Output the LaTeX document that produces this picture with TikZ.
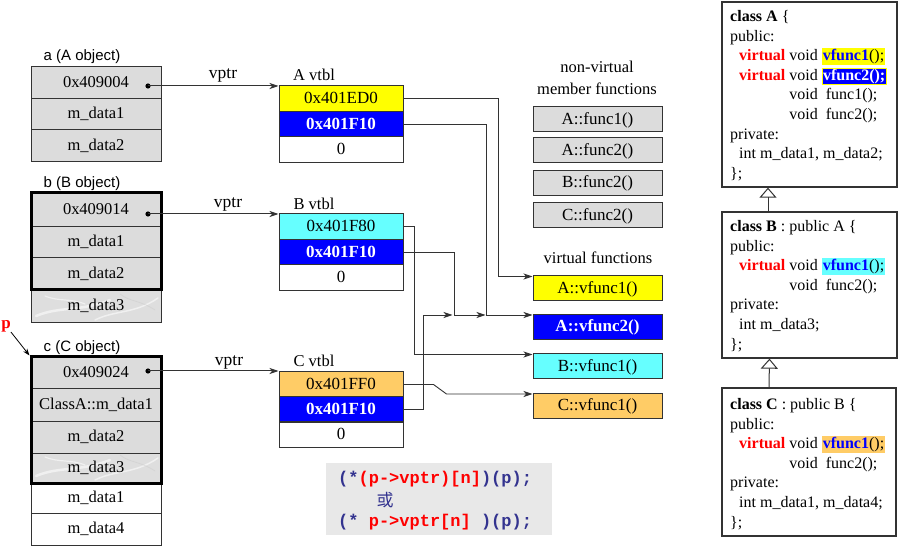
\documentclass[tikz,border=0pt]{standalone}
\usepackage{fontspec}
\setmainfont{Liberation Serif}
\setsansfont{Liberation Sans}
\setmonofont{Liberation Mono}
\newfontfamily\cjk{Noto Sans CJK SC}
\usetikzlibrary{arrows.meta,calc}

\definecolor{cellgray}{HTML}{DCDCDC}
\definecolor{linegray}{HTML}{333333}
\definecolor{vyellow}{HTML}{FFFF00}
\definecolor{vblue}{HTML}{0000FF}
\definecolor{vcyan}{HTML}{66FFFF}
\definecolor{vorange}{HTML}{FFCC66}
\definecolor{codebg}{HTML}{E8E8E8}
\definecolor{codeblue}{HTML}{33338F}
\definecolor{kwred}{HTML}{FF0000}
\definecolor{marble}{HTML}{DEDEDE}

% highlighted method names in the class listings
\newcommand\hlname[2]{{\setlength\fboxsep{1pt}\colorbox{#1}{#2}}}
\newcommand\hlframe[3]{{\setlength\fboxsep{0.6pt}\setlength\fboxrule{0.6pt}\fcolorbox{#1}{#2}{#3}}}
\newcommand\kw{\textcolor{kwred}{\textbf{virtual}}}

\begin{document}
\begin{tikzpicture}[x=1pt,y=-1pt,
  font=\fontsize{16.5}{19}\selectfont,
  cell/.style={draw=linegray, line width=1pt, minimum width=130pt, inner sep=0pt,
               text height=11pt, text depth=2pt},
  gcell/.style={cell, fill=cellgray},
  mcell/.style={cell, fill=marble},
  frame/.style={draw=black, line width=3pt, minimum width=130pt, inner sep=0pt},
  vcell/.style={draw=linegray, line width=1pt, minimum width=124pt, minimum height=25.5pt,
                inner sep=0pt, text height=11.5pt, text depth=1pt, font=\fontsize{17}{19}\selectfont},
  fcell/.style={draw=linegray, line width=1pt, fill=cellgray, minimum width=129pt, minimum height=25pt,
                inner sep=0pt, text height=11.5pt, text depth=2pt, font=\fontsize{17}{19}\selectfont},
  objlabel/.style={font=\sffamily\fontsize{15}{17}\selectfont, inner sep=0pt},
  plain/.style={inner sep=0pt},
  vein/.style={white, line width=#1, opacity=0.55, line cap=round},
  vein/.default=2pt,
  ptr/.style={draw=linegray, line width=1pt, -{Stealth[length=9pt,width=6pt,inset=2.5pt]}},
  conn/.style={draw=linegray, line width=0.9pt, -{Stealth[length=9pt,width=6pt,inset=2.5pt]}},
  ctext/.style={anchor=base west, inner sep=0pt, font=\fontsize{16}{19}\selectfont},
  clsbox/.style={draw=linegray, line width=1.3pt, inner sep=0pt},
  inh/.style={draw=linegray, line width=1pt, -{Triangle[open,length=10pt,width=17pt]}},
  code/.style={anchor=west, inner sep=0pt, font=\fontsize{17}{20}\ttfamily\bfseries},
]
\useasboundingbox (0,0) rectangle (906,548);
\fill[white] (0,0) rectangle (906,548);

% ---------- object a ----------
\node[objlabel] (alab) at (82,57) {a (A object)};
\node[gcell, minimum height=32pt] (a0) at (96,83) {0x409004};
\node[gcell, minimum height=31pt] (a1) at (96,114.5) {m\_data1};
\node[gcell, minimum height=32pt] (a2) at (96,146) {m\_data2};

% ---------- object b ----------
\node[objlabel] (blab) at (82,184) {b (B object)};
\node[gcell, minimum height=34pt] (b0) at (96,210) {0x409014};
\node[gcell, minimum height=31pt] (b1) at (96,242.5) {m\_data1};
\node[gcell, minimum height=32pt] (b2) at (96,274) {m\_data2};
\node[mcell, minimum height=33pt] (b3) at (96,306.5) {};
\begin{scope}
  \clip (b3.south west) rectangle (b3.north east);
  \draw[vein=2.5pt] (36,316) .. controls (60,306) and (80,312) .. (110,300);
  \draw[vein=1.5pt] (95,320) .. controls (115,310) and (135,314) .. (158,298);
  \draw[vein=1.2pt] (45,296) .. controls (60,302) and (70,298) .. (85,304);
  \draw[gray!40, line width=0.8pt, opacity=0.5] (120,294) .. controls (130,302) and (140,300) .. (155,310);
\end{scope}
\node[plain, font=\fontsize{16.5}{19}\selectfont, text height=11pt, text depth=2pt] at (b3) {m\_data3};
\node[frame, minimum height=97pt] (bframe) at (96,241.5) {};

% ---------- object c ----------
\node[objlabel] (clab) at (82,348) {c (C object)};
\node[gcell, minimum height=32pt] (c0) at (96,373) {0x409024};
\node[gcell, minimum height=32pt] (c1) at (96,405) {ClassA::m\_data1};
\node[gcell, minimum height=32pt] (c2) at (96,437) {m\_data2};
\node[mcell, minimum height=30pt] (c3) at (96,468) {};
\begin{scope}
  \clip (c3.south west) rectangle (c3.north east);
  \draw[vein=2.5pt] (36,476) .. controls (60,466) and (80,472) .. (110,460);
  \draw[vein=1.5pt] (95,480) .. controls (115,470) and (135,474) .. (158,458);
  \draw[vein=1.2pt] (45,457) .. controls (60,463) and (70,459) .. (85,465);
  \draw[gray!40, line width=0.8pt, opacity=0.5] (120,455) .. controls (130,463) and (140,461) .. (155,471);
\end{scope}
\node[plain, font=\fontsize{16.5}{19}\selectfont, text height=11pt, text depth=2pt] at (c3) {m\_data3};
\node[cell, minimum height=30pt] (c4) at (96,498) {m\_data1};
\node[cell, minimum height=32pt] (c5) at (96,529) {m\_data4};
\node[frame, minimum height=126pt] (cframe) at (96,420) {};

% pointer p
\node[plain, text=kwred, font=\fontsize{17}{19}\selectfont\bfseries] (p) at (6,326) {p};
\draw[draw=black, line width=0.8pt, -{Stealth[length=7pt,width=5pt]}] (p.south east) -- (cframe.north west);

% ---------- vtables ----------
\node[plain] (avlab) at (314,75) {A vtbl};
\node[vcell, fill=vyellow] (avt1) at (341,98.5) {0x401ED0};
\node[vcell, fill=vblue, text=white, font=\fontsize{17}{19}\selectfont\bfseries] (avt2) at (341,124) {0x401F10};
\node[vcell] (avt3) at (341,149.5) {0};

\node[plain] (bvlab) at (314,204) {B vtbl};
\node[vcell, fill=vcyan] (bvt1) at (341,226.5) {0x401F80};
\node[vcell, fill=vblue, text=white, font=\fontsize{17}{19}\selectfont\bfseries] (bvt2) at (341,252) {0x401F10};
\node[vcell] (bvt3) at (341,277.5) {0};

\node[plain] (cvlab) at (314,361) {C vtbl};
\node[vcell, fill=vorange] (cvt1) at (341,384.5) {0x401FF0};
\node[vcell, fill=vblue, text=white, font=\fontsize{17}{19}\selectfont\bfseries] (cvt2) at (341,409.5) {0x401F10};
\node[vcell] (cvt3) at (341,434.5) {0};

% ---------- vptr links ----------
\coordinate (adot) at (148,86);
\coordinate (bdot) at (148,214);
\coordinate (cdot) at (148,371);
\fill[black] (adot) circle (2.6pt);
\fill[black] (bdot) circle (2.6pt);
\fill[black] (cdot) circle (2.6pt);
\draw[ptr] (adot) -- (adot -| avt1.west);
\draw[ptr] (bdot) -- (bdot -| bvt1.west);
\draw[ptr] (cdot) -- (cdot -| cvt1.west);
\node[plain, font=\fontsize{17.5}{19}\selectfont] (vp1) at (223,75) {vptr};
\node[plain, font=\fontsize{17.5}{19}\selectfont] (vp2) at (228,204) {vptr};
\node[plain, font=\fontsize{17.5}{19}\selectfont] (vp3) at (229,362) {vptr};

% ---------- function boxes ----------
\node[plain] (nvlab1) at (597,67) {non-virtual};
\node[plain] (nvlab2) at (597,89) {member functions};
\node[fcell] (fa1) at (597.5,119.5) {A::func1()};
\node[fcell] (fa2) at (597.5,150.5) {A::func2()};
\node[fcell] (fb2) at (597.5,183) {B::func2()};
\node[fcell] (fc2) at (597.5,215.5) {C::func2()};

\node[plain] (vlab) at (598,258) {virtual functions};
\node[fcell, fill=vyellow] (va1) at (597.5,288.5) {A::vfunc1()};
\node[fcell, fill=vblue, text=white, font=\fontsize{17}{19}\selectfont\bfseries] (va2) at (597.5,327) {A::vfunc2()};
\node[fcell, fill=vcyan] (vb1) at (597.5,366.5) {B::vfunc1()};
\node[fcell, fill=vorange] (vc1) at (597.5,406) {C::vfunc1()};

% ---------- vtable slots to virtual functions ----------
\coordinate (t1) at ([yshift=-1pt]va1.north west);
\coordinate (t2) at ([yshift=-1pt]va2.north west);
\coordinate (t3) at ([yshift=-1pt]vb1.north west);
\coordinate (t4) at ([yshift=-1pt]vc1.north west);
\draw[conn] (avt1.east) -| ($(t1)+(-34,0)$) -- (t1);
\draw[conn] (avt2.east) -| ($(t2)+(-46,0)$) -- (t2);
\draw[conn] (bvt1.east) -| ($(t3)+(-118,0)$) -- (t3);
\draw[conn] (bvt2.east) -| ($(t2)+(-78,0)$) -- ($(t2)+(-47,0)$);
\draw[conn] (cvt1.east) -- ($(cvt1.east)+(30,0)$) -- ($(t4)+(-86,0)$) -- (t4);
\draw[conn] (cvt2.east) -| ($(t2)+(-109,0)$) -- ($(t2)+(-80,0)$);

% ---------- call expression ----------
\node[fill=codebg, minimum width=226pt, minimum height=72pt, inner sep=0pt] (codebox) at (439,499) {};
\node[code] (code1) at (338,479) {\textcolor{codeblue}{(*}\textcolor{kwred}{(p->vptr)[n]}\textcolor{codeblue}{)(p);}};
\node[plain, text=codeblue, font=\cjk\fontsize{17}{20}\selectfont] (code2) at (385,500) {或};
\node[code] (code3) at (338,522) {\textcolor{codeblue}{(*~}\textcolor{kwred}{p->vptr[n]}\textcolor{codeblue}{~)(p);}};

% ---------- class declarations ----------
\node[clsbox, minimum width=175pt, minimum height=185pt] (clsA) at (809.5,94.5) {};
\node[clsbox, minimum width=175pt, minimum height=146pt] (clsB) at (809.5,285) {};
\node[clsbox, minimum width=174pt, minimum height=148pt] (clsC) at (809,462) {};
\draw[inh] ([xshift=-41.5pt]clsB.north) -- ([xshift=-41.5pt]clsA.south);
\draw[inh] ([xshift=-40pt]clsC.north) -- ([xshift=-40pt]clsB.south);

\node[ctext] (la1) at (730,21.5) {\textbf{class A} \{};
\node[ctext] (la2) at (730,41.1) {public:};
\node[ctext] (la3) at (739,60.7) {\kw{} void \hlname{vyellow}{\textcolor{vblue}{\textbf{vfunc1}}();}};
\node[ctext] (la4) at (739,80.3) {\kw{} void \hlframe{vyellow}{vblue}{\textcolor{white}{\textbf{vfunc2();}}}};
\node[ctext] (la5) at (739,99.9) {\phantom{\textbf{virtual} }void\ \ func1();};
\node[ctext] (la6) at (739,119.5) {\phantom{\textbf{virtual} }void\ \ func2();};
\node[ctext] (la7) at (730,139.1) {private:};
\node[ctext] (la8) at (739,158.7) {int m\_data1, m\_data2;};
\node[ctext] (la9) at (730,178.3) {\};};

\node[ctext] (lb1) at (730,231.5) {\textbf{class B} : public A \{};
\node[ctext] (lb2) at (730,251.1) {public:};
\node[ctext] (lb3) at (739,270.7) {\kw{} void \hlname{vcyan}{\textcolor{vblue}{\textbf{vfunc1}}();}};
\node[ctext] (lb4) at (739,290.3) {\phantom{\textbf{virtual} }void\ \ func2();};
\node[ctext] (lb5) at (730,309.9) {private:};
\node[ctext] (lb6) at (739,329.5) {int m\_data3;};
\node[ctext] (lb7) at (730,349.1) {\};};

\node[ctext] (lc1) at (730,409.5) {\textbf{class C} : public B \{};
\node[ctext] (lc2) at (730,429.1) {public:};
\node[ctext] (lc3) at (739,448.7) {\kw{} void \hlname{vorange}{\textcolor{vblue}{\textbf{vfunc1}}();}};
\node[ctext] (lc4) at (739,468.3) {\phantom{\textbf{virtual} }void\ \ func2();};
\node[ctext] (lc5) at (730,487.9) {private:};
\node[ctext] (lc6) at (739,507.5) {int m\_data1, m\_data4;};
\node[ctext] (lc7) at (730,527.1) {\};};

\end{tikzpicture}
\end{document}
